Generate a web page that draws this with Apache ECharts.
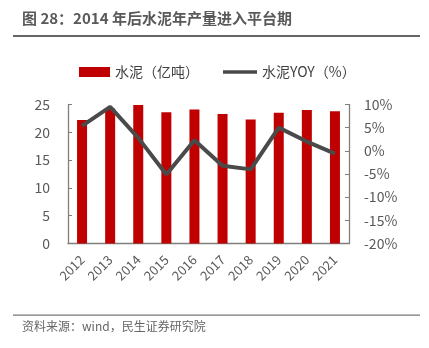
<!DOCTYPE html>
<html><head><meta charset="utf-8">
<script src="https://cdn.jsdelivr.net/npm/echarts@6/dist/echarts.min.js"></script>
<style>html,body{margin:0;padding:0;background:#fff}#c{width:429px;height:348px}</style>
</head><body><div id="c"></div>
<script>
var years = ['2012','2013','2014','2015','2016','2017','2018','2019','2020','2021'];
var cement = [22.2, 24.3, 24.9, 23.6, 24.1, 23.3, 22.3, 23.5, 24.0, 23.8];
var yoy = [5.4, 9.5, 2.8, -5.1, 2.3, -3.2, -4.0, 5.0, 2.0, -0.6];
var leftTicks = [0, 5, 10, 15, 20, 25];
var rightTicks = [-20, -15, -10, -5, 0, 5, 10];
var fam = '"Microsoft YaHei","Noto Sans CJK SC",sans-serif';
var chart = echarts.init(document.getElementById('c'), null, {renderer:'canvas'});
chart.setOption({
  animation:false,
  textStyle:{fontFamily:fam},
  graphic:[
    {type:'text', left:22, top:11, style:{text:'图 28：2014 年后水泥年产量进入平台期', font:'bold 15px '+fam, fill:'#595959'}},
    {type:'rect', shape:{x:13,y:35,width:407,height:2}, style:{fill:'#666'}},
    {type:'rect', shape:{x:13,y:314.5,width:407,height:1.3}, style:{fill:'#777'}},
    {type:'text', left:22, top:320, style:{text:'资料来源：wind，民生证券研究院', font:'12px '+fam, fill:'#666'}}
  ],
  legend:[
    {top:64, left:79, itemGap:0, padding:0, textStyle:{fontSize:14, color:'#404040', fontFamily:fam, lineHeight:16},
     data:[{name:'水泥（亿吨）', icon:'rect', itemStyle:{color:'#C00000'}}],
     itemWidth:31, itemHeight:10},
    {top:64, left:223, itemGap:0, padding:0, textStyle:{fontSize:14, color:'#404040', fontFamily:fam, lineHeight:16},
     data:[{name:'水泥YOY（%）', icon:'rect', itemStyle:{color:'#4a4a4a'}}],
     itemWidth:34, itemHeight:3.5}
  ],
  grid:{left:68, right:80, top:104.5, bottom:104.5},
  xAxis:{
    type:'category', data:years,
    axisLine:{lineStyle:{color:'#7f7f7f', width:1.3}},
    axisTick:{show:false},
    axisLabel:{rotate:45, fontSize:13, color:'#595959', margin:14, interval:0}
  },
  yAxis:[
    {type:'value', min:0, max:25, interval:5, position:'left',
     axisLine:{show:true, lineStyle:{color:'#7f7f7f', width:1.3}},
     axisTick:{show:true, inside:true, length:4, lineStyle:{color:'#7f7f7f'}},
     splitLine:{show:false},
     axisLabel:{fontSize:14, color:'#595959', margin:18}},
    {type:'value', min:-20, max:10, interval:5, position:'right',
     axisLine:{show:true, lineStyle:{color:'#7f7f7f', width:1.3}},
     axisTick:{show:true, inside:true, length:4, lineStyle:{color:'#7f7f7f'}},
     splitLine:{show:false},
     axisLabel:{fontSize:14, color:'#595959', margin:15, formatter:'{value}%'}}
  ],
  series:[
    {name:'水泥（亿吨）', type:'bar', data:cement, barWidth:10, itemStyle:{color:'#C00000'}, yAxisIndex:0},
    {name:'水泥YOY（%）', type:'line', data:yoy, yAxisIndex:1, symbol:'none',
     lineStyle:{color:'#4a4a4a', width:4}, itemStyle:{color:'#4a4a4a'}}
  ]
});
</script></body></html>
